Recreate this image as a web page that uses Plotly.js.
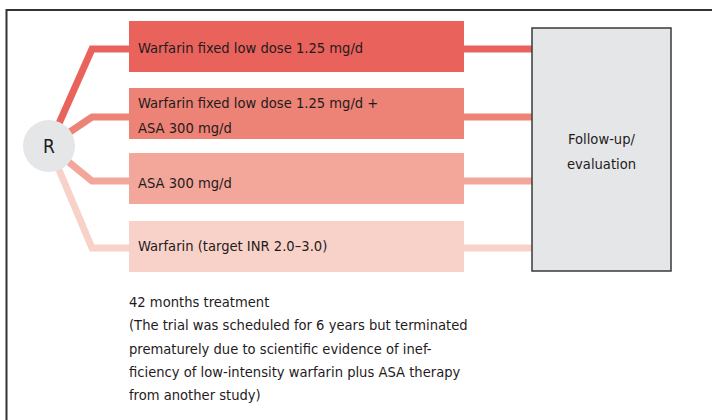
<!DOCTYPE html>
<html>
<head>
<meta charset="utf-8">
<script src="https://cdn.plot.ly/plotly-3.0.1.min.js"></script>
<style>html,body{margin:0;padding:0;background:#fff;}#chart{width:712px;height:420px;}</style>
</head>
<body>
<div id="chart"></div>
<script>
// Diagram content
const armLabels = [
  "Warfarin fixed low dose 1.25 mg/d",
  "Warfarin fixed low dose 1.25 mg/d +<br>ASA 300 mg/d",
  "ASA 300 mg/d",
  "Warfarin (target INR 2.0\u20133.0)"
];
const armColors = ["#E9635C", "#EC8376", "#F3A79B", "#F8D2C8"];
const randomLabel = "R";
const followLabel = "Follow-up/<br>evaluation";
const noteLines = [
  "42 months treatment",
  "(The trial was scheduled for 6 years but terminated",
  "prematurely due to scientific evidence of inef-",
  "ficiency of low-intensity warfarin plus ASA therapy",
  "from another study)"
];

// Layout geometry (pixel space)
const FONT = "DejaVu Sans Condensed, Liberation Sans Narrow, sans-serif";
const FS = 14.6;
const TXT = "#1f1b1c";
const boxTop = [21, 88, 153, 221], boxH = 51;
const boxX0 = 129, boxX1 = 464;
const lineY = [49, 117, 181, 248];
const elbowX = 92;
const circ = {x: 49, y: 146, r: 26};
const fu = {x0: 532, x1: 671, y0: 28, y1: 271};
const LH = 25; // line spacing within boxes

const traces = armLabels.map((lab, i) => ({
  type: "scatter", mode: "lines",
  x: [circ.x, elbowX, fu.x0],
  y: [circ.y, lineY[i], lineY[i]],
  line: {color: armColors[i], width: 7},
  hoverinfo: "skip", showlegend: false
}));

const shapes = [];
armLabels.forEach((lab, i) => {
  shapes.push({type: "rect", xref: "x", yref: "y", x0: boxX0, x1: boxX1,
    y0: boxTop[i], y1: boxTop[i] + boxH, fillcolor: armColors[i], line: {width: 0}, layer: "above"});
});
shapes.push({type: "circle", xref: "x", yref: "y", x0: circ.x - circ.r, x1: circ.x + circ.r,
  y0: circ.y - circ.r, y1: circ.y + circ.r, fillcolor: "#E5E6E8", line: {width: 0}, layer: "above"});
shapes.push({type: "rect", xref: "x", yref: "y", x0: fu.x0, x1: fu.x1, y0: fu.y0, y1: fu.y1,
  fillcolor: "#E5E6E8", line: {color: "#3a3a3a", width: 1.5}, layer: "above"});
shapes.push({type: "path", xref: "x", yref: "y", path: "M 6.5 420 L 6.5 10 L 712 10",
  line: {color: "#333333", width: 2}, layer: "above"});

const annotations = [];
function addLines(text, x, yc, anchor) {
  const parts = text.split("<br>");
  parts.forEach((p, k) => annotations.push({
    x: x, y: yc + (k - (parts.length - 1) / 2) * LH, xref: "x", yref: "y", text: p, showarrow: false,
    xanchor: anchor, yanchor: "middle", align: anchor,
    font: {family: FONT, size: FS, color: TXT}
  }));
}
const textY = [47, 115, 182, 245];
armLabels.forEach((lab, i) => addLines(lab, 136, textY[i], "left"));
addLines(followLabel, (fu.x0 + fu.x1) / 2, 151, "center");
annotations.push({x: circ.x, y: circ.y, xref: "x", yref: "y", text: randomLabel, showarrow: false,
  xanchor: "center", yanchor: "middle", font: {family: FONT, size: 19, color: TXT}});
const noteY = [301, 324.5, 348, 371, 394];
noteLines.forEach((t, i) => annotations.push({
  x: 127, y: noteY[i], xref: "x", yref: "y", text: t, showarrow: false,
  xanchor: "left", yanchor: "middle", align: "left",
  font: {family: FONT, size: FS, color: TXT}
}));

const layout = {
  width: 712, height: 420,
  margin: {l: 0, r: 0, t: 0, b: 0},
  paper_bgcolor: "#ffffff", plot_bgcolor: "#ffffff",
  xaxis: {range: [0, 712], visible: false, fixedrange: true},
  yaxis: {range: [420, 0], visible: false, fixedrange: true},
  shapes: shapes, annotations: annotations, showlegend: false
};
Plotly.newPlot("chart", traces, layout, {staticPlot: true, displayModeBar: false});
</script>
</body>
</html>
